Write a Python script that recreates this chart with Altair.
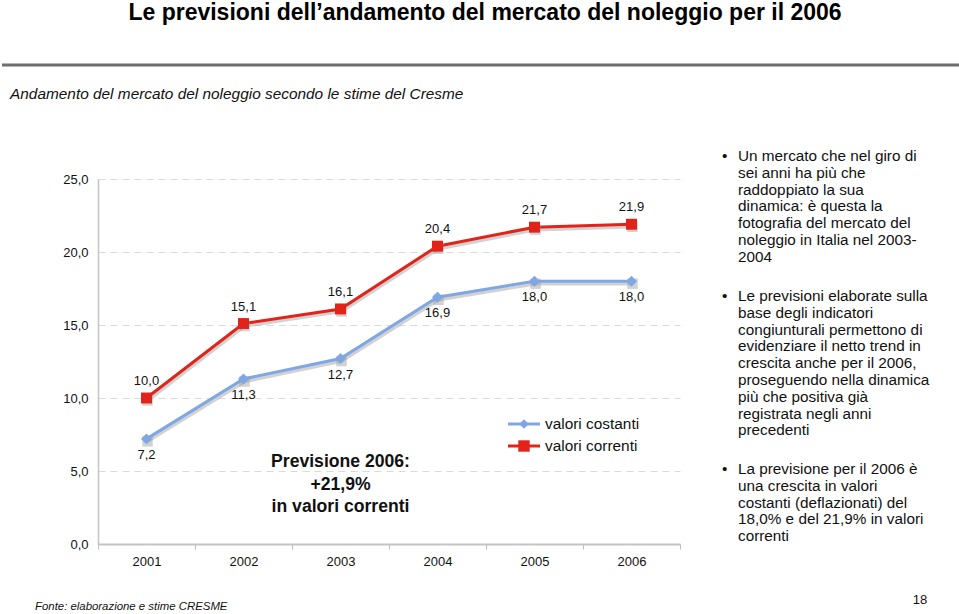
import altair as alt
import pandas as pd

# ---------------- data ----------------
years = ["2001", "2002", "2003", "2004", "2005", "2006"]
valori_costanti = [7.2, 11.3, 12.7, 16.9, 18.0, 18.0]
valori_correnti = [10.0, 15.1, 16.1, 20.4, 21.7, 21.9]
series_names = ["valori costanti", "valori correnti"]
y_ticks = [0, 5, 10, 15, 20, 25]

title_text = "Le previsioni dell’andamento del mercato del noleggio per il 2006"
subtitle_text = "Andamento del mercato del noleggio secondo le stime del Cresme"
annotation_lines = ["Previsione 2006:", "+21,9%", "in valori correnti"]
bullet_1 = ["Un mercato che nel giro di", "sei anni ha più che", "raddoppiato la sua",
            "dinamica: è questa la", "fotografia del mercato del",
            "noleggio in Italia nel 2003-", "2004"]
bullet_2 = ["Le previsioni elaborate sulla", "base degli indicatori",
            "congiunturali permettono di", "evidenziare il netto trend in",
            "crescita anche per il 2006,", "proseguendo nella dinamica",
            "più che positiva già", "registrata negli anni", "precedenti"]
bullet_3 = ["La previsione per il 2006 è", "una crescita in valori",
            "costanti (deflazionati) del", "18,0% e del 21,9% in valori", "correnti"]
footer_text = "Fonte: elaborazione e stime CRESME"
page_number = "18"

rows = []
for name, vals in zip(series_names, [valori_costanti, valori_correnti]):
    for yr, v in zip(years, vals):
        rows.append({"year": yr, "series": name, "value": v,
                     "label": f"{v:.1f}".replace(".", ",")})
df = pd.DataFrame(rows)
one = pd.DataFrame({"k": [0]})

# ---------------- styles ----------------
FONT = "Liberation Sans"
BLUE = "#7FA7E6"
RED = "#E2231A"

x_enc = alt.X("year:N",
              scale=alt.Scale(type="band", domain=years, paddingInner=0, paddingOuter=0),
              axis=alt.Axis(title=None, labelAngle=0, tickBand="extent", tickSize=5,
                            tickColor="#bdbdbd", domainColor="#c4c4c4", domainWidth=2,
                            labelFont=FONT, labelFontSize=13, labelColor="#111",
                            labelPadding=6, grid=False))
y_enc = alt.Y("value:Q",
              scale=alt.Scale(domain=[0, 25], nice=False, zero=True),
              axis=alt.Axis(title=None, values=y_ticks,
                            labelExpr="replace(format(datum.value, '.1f'), '.', ',')",
                            ticks=False, domainColor="#c4c4c4", domainWidth=1.5,
                            labelFont=FONT, labelFontSize=13, labelColor="#111",
                            labelPadding=10, grid=True, gridColor="#dadada",
                            gridDash=[7, 5], gridWidth=1))
color_scale = alt.Scale(domain=series_names, range=[BLUE, RED])
color_nolegend = alt.Color("series:N", scale=color_scale, legend=None)

base = alt.Chart(df)

shadow_line = base.mark_line(strokeWidth=3.5, color="#9c9c9c", opacity=0.45,
                             xOffset=1, yOffset=2.5).encode(
    x=x_enc, y=y_enc, detail="series:N")
line = base.mark_line(strokeWidth=3).encode(x=x_enc, y=y_enc, color=color_nolegend)

shadow_pts = base.mark_point(filled=True, shape="square", size=110, color="#9c9c9c",
                             opacity=0.45, xOffset=1, yOffset=2.5).encode(x=x_enc, y=y_enc)

diamonds = base.transform_filter(alt.datum.series == series_names[0]).mark_point(
    shape="diamond", filled=True, size=120, opacity=1).encode(
    x=x_enc, y=y_enc, color=color_nolegend)
squares = base.transform_filter(alt.datum.series == series_names[1]).mark_point(
    shape="square", filled=True, size=120, opacity=1).encode(
    x=x_enc, y=y_enc, color=color_nolegend)

lab_blue = base.transform_filter(alt.datum.series == series_names[0]).mark_text(
    font=FONT, fontSize=13, color="#111", dy=16, baseline="middle").encode(
    x=x_enc, y=y_enc, text="label:N")
lab_red = base.transform_filter(alt.datum.series == series_names[1]).mark_text(
    font=FONT, fontSize=13, color="#111", dy=-17, baseline="middle").encode(
    x=x_enc, y=y_enc, text="label:N")

# ---------------- legend (guide) ----------------
def legend_entry(name, color, shape, size, y):
    d = pd.DataFrame({"series": [name]})
    seg = alt.Chart(d).mark_rule(color=color, strokeWidth=3).encode(
        x=alt.value(410), x2=alt.value(442), y=alt.value(y))
    sym = alt.Chart(d).mark_point(shape=shape, filled=True, size=size, color=color,
                                  opacity=1).encode(x=alt.value(426), y=alt.value(y))
    txt = alt.Chart(d).mark_text(font=FONT, fontSize=15.4, color="#111", align="left",
                                 baseline="middle").encode(
        x=alt.value(447), y=alt.value(y), text="series:N")
    return [seg, sym, txt]

legend_layers = (legend_entry(series_names[0], BLUE, "diamond", 90, 245)
                 + legend_entry(series_names[1], RED, "square", 130, 267))

annotation = alt.Chart(one).mark_text(
    font=FONT, fontSize=17.6, fontWeight="bold", color="#111", lineHeight=22.5,
    align="center", baseline="middle").encode(
    x=alt.datum("2003"), y=alt.datum(5.6), text=alt.value(annotation_lines))

# ---------------- page decorations ----------------
def deco_text(txt, x, y, **kw):
    return alt.Chart(one).mark_text(font=FONT, **kw).encode(
        x=alt.value(x), y=alt.value(y), text=alt.value(txt))

title = deco_text(title_text, 387, -166, fontSize=23, fontWeight="bold",
                  color="#000", align="center", baseline="middle")
hr = alt.Chart(one).mark_rule(color="#6e6e6e", strokeWidth=3).encode(
    x=alt.value(-96), x2=alt.value(861), y=alt.value(-114))
subtitle = deco_text(subtitle_text, -88, -85, fontSize=15.4, fontStyle="italic",
                     color="#111", align="left", baseline="middle")

para_kw = dict(fontSize=15.3, color="#111", align="left", baseline="alphabetic",
               lineHeight=16.8)
p1 = deco_text(bullet_1, 640, -18, **para_kw)
p2 = deco_text(bullet_2, 640, 122, **para_kw)
p3 = deco_text(bullet_3, 640, 295, **para_kw)
b1 = deco_text("•", 624, -18, **para_kw)
b2 = deco_text("•", 624, 122, **para_kw)
b3 = deco_text("•", 624, 295, **para_kw)

footer = deco_text(footer_text, -63, 431, fontSize=11.4, fontStyle="italic",
                   color="#111", align="left", baseline="alphabetic")
page = deco_text(page_number, 822, 421, fontSize=13, color="#111",
                 align="center", baseline="middle")

chart = alt.layer(
    shadow_line, line, shadow_pts, diamonds, squares, lab_blue, lab_red,
    *legend_layers, annotation,
    title, hr, subtitle, p1, p2, p3, b1, b2, b3, footer, page,
).properties(
    width=582, height=365,
    padding={"left": 98, "top": 179, "right": 279, "bottom": 70},
    autosize=alt.AutoSizeParams(type="none"),
    background="white",
).configure_view(stroke=None)

chart.save("out.html", embed_options={"renderer": "svg", "actions": False})
